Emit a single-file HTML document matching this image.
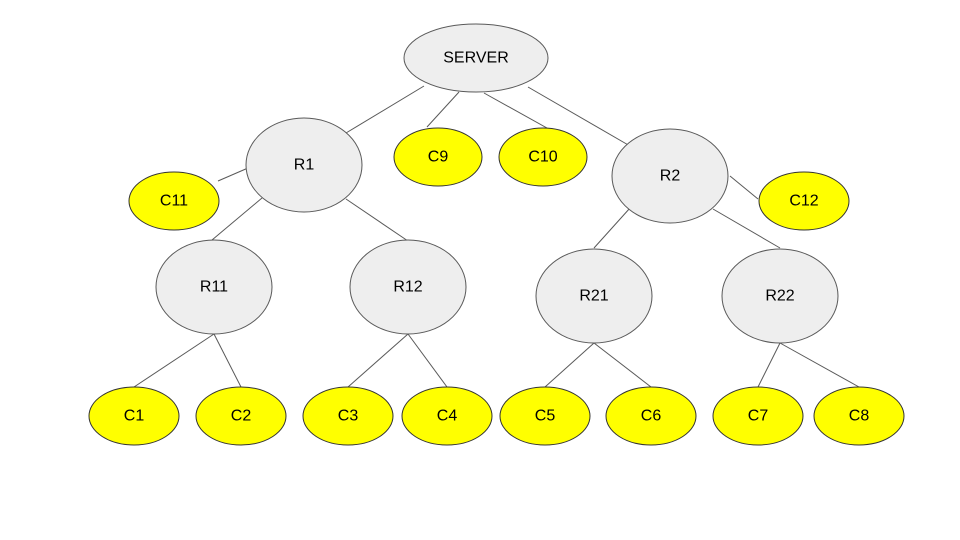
<!DOCTYPE html>
<html><head><meta charset="utf-8"><style>html,body{margin:0;padding:0;background:#fff}svg{display:block}</style></head>
<body>
<svg width="960" height="540" viewBox="0 0 960 540" xmlns="http://www.w3.org/2000/svg">
<g stroke="#595959" stroke-width="1" fill="none">
<line x1="424" y1="86" x2="346" y2="133"/>
<line x1="459" y1="92" x2="427" y2="127"/>
<line x1="484" y1="93" x2="547" y2="128"/>
<line x1="528" y1="87" x2="630" y2="146"/>
<line x1="248" y1="168" x2="218" y2="181"/>
<line x1="262" y1="198" x2="212" y2="240"/>
<line x1="346" y1="199" x2="408" y2="241"/>
<line x1="730" y1="176" x2="758" y2="199"/>
<line x1="630" y1="208" x2="594" y2="248"/>
<line x1="713" y1="209" x2="780" y2="248"/>
<line x1="214" y1="334" x2="134" y2="387"/>
<line x1="214" y1="334" x2="241" y2="387"/>
<line x1="408" y1="334" x2="348" y2="387"/>
<line x1="408" y1="334" x2="447" y2="387"/>
<line x1="594" y1="343" x2="545" y2="387"/>
<line x1="594" y1="343" x2="651" y2="387"/>
<line x1="780" y1="343" x2="758" y2="387"/>
<line x1="780" y1="343" x2="859" y2="387"/>
</g>
<g fill="#eeeeee" stroke="#595959" stroke-width="1">
<ellipse cx="476" cy="58" rx="72" ry="34"/>
<ellipse cx="304" cy="165" rx="58" ry="47"/>
<ellipse cx="670" cy="176" rx="58" ry="47"/>
<ellipse cx="214" cy="287" rx="58" ry="47"/>
<ellipse cx="408" cy="287" rx="58" ry="47"/>
<ellipse cx="594" cy="296" rx="58" ry="47"/>
<ellipse cx="780" cy="296" rx="58" ry="47"/>
</g>
<g fill="#ffff00" stroke="#333" stroke-width="1">
<ellipse cx="438" cy="157" rx="44" ry="29"/>
<ellipse cx="543" cy="157" rx="44" ry="29"/>
<ellipse cx="174" cy="201" rx="45" ry="29"/>
<ellipse cx="804" cy="201" rx="45" ry="29"/>
<ellipse cx="134" cy="416" rx="45" ry="29"/>
<ellipse cx="241" cy="416" rx="45" ry="29"/>
<ellipse cx="348" cy="416" rx="45" ry="29"/>
<ellipse cx="447" cy="416" rx="45" ry="29"/>
<ellipse cx="545" cy="416" rx="45" ry="29"/>
<ellipse cx="651" cy="416" rx="45" ry="29"/>
<ellipse cx="758" cy="416" rx="45" ry="29"/>
<ellipse cx="859" cy="416" rx="45" ry="29"/>
</g>
<g font-family="Liberation Sans, sans-serif" font-size="16" fill="#000" text-anchor="middle" dominant-baseline="central">
<text x="476" y="58">SERVER</text>
<text x="304" y="165">R1</text>
<text x="670" y="176">R2</text>
<text x="214" y="287">R11</text>
<text x="408" y="287">R12</text>
<text x="594" y="296">R21</text>
<text x="780" y="296">R22</text>
<text x="438" y="157">C9</text>
<text x="543" y="157">C10</text>
<text x="174" y="201">C11</text>
<text x="804" y="201">C12</text>
<text x="134" y="416">C1</text>
<text x="241" y="416">C2</text>
<text x="348" y="416">C3</text>
<text x="447" y="416">C4</text>
<text x="545" y="416">C5</text>
<text x="651" y="416">C6</text>
<text x="758" y="416">C7</text>
<text x="859" y="416">C8</text>
</g>
</svg>
</body></html>
